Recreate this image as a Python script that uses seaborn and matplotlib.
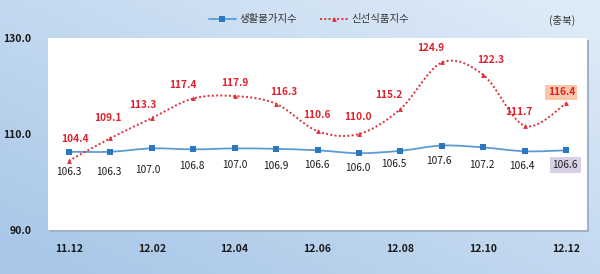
import numpy as np
import pandas as pd
import matplotlib
matplotlib.use("Agg")
import matplotlib.pyplot as plt
from matplotlib.path import Path
from matplotlib.patches import PathPatch, Rectangle
from matplotlib.lines import Line2D
import seaborn as sns

months = ["11.12", "12.01", "12.02", "12.03", "12.04", "12.05", "12.06",
          "12.07", "12.08", "12.09", "12.10", "12.11", "12.12"]
living = [106.3, 106.3, 107.0, 106.8, 107.0, 106.9, 106.6, 106.0, 106.5, 107.6, 107.2, 106.4, 106.6]
fresh = [104.4, 109.1, 113.3, 117.4, 117.9, 116.3, 110.6, 110.0, 115.2, 124.9, 122.3, 111.7, 116.4]
tick_labels = ["11.12", "12.02", "12.04", "12.06", "12.08", "12.10", "12.12"]
name_living = "생활물가지수"
name_fresh = "신선식품지수"
region = "(충북)"

# label offsets in pixels (layout only)
fresh_off = [(6, 22), (-2, 20), (-9, 13), (-10, 13), (0, 13), (8, 12), (-1, 16),
             (-1, 17), (-12, 14), (-11, 14), (7, 15), (-6, 14), (-5, 11)]
living_off = [(0, -20), (-1, -20), (-4, -22), (-1, -17), (0, -17), (0, -17), (-1, -15),
              (-1, -15), (-7, -13), (-3, -15), (-2, -18), (-3, -15), (-1, -15)]

sns.set_theme(style="white")
plt.rcParams["font.family"] = ["Noto Sans CJK KR", "DejaVu Sans"]

fig = plt.figure(figsize=(6.0, 2.74), dpi=100)

# gradient background
bg = fig.add_axes([0, 0, 1, 1], zorder=-10)
yy, xx = np.mgrid[0:1:200j, 0:1:300j]
t = np.clip(0.55 * xx + 0.55 * (1 - yy) - 0.05, 0, 1)  # yy=0 top
c0 = np.array([0.66, 0.78, 0.91])
c1 = np.array([0.87, 0.92, 0.97])
img = c0[None, None, :] * (1 - t[..., None]) + c1[None, None, :] * t[..., None]
bg.imshow(img, aspect="auto", extent=[0, 1, 0, 1])
bg.axis("off")

L, B, W, H = 48 / 600, 44 / 274, 539 / 600, 192 / 274
shadow = fig.add_axes([L + 2 / 600, B - 2 / 274, W, H], zorder=-5)
shadow.set_facecolor("#9fb3c8")
shadow.set_xticks([]); shadow.set_yticks([])
for s in shadow.spines.values():
    s.set_visible(False)

ax = fig.add_axes([L, B, W, H])
ax.set_facecolor("white")

df = pd.DataFrame({"x": np.arange(len(months)), "month": months,
                   "living": living, "fresh": fresh})

blue_line = "#5b9bd5"
blue_mk = "#2a78c0"
red = "#e0303a"


def smooth_path(xs, ys):
    pts = np.column_stack([xs, ys]).astype(float)
    n = len(pts)
    verts = [pts[0]]
    codes = [Path.MOVETO]
    for i in range(n - 1):
        p0 = pts[i - 1] if i > 0 else pts[i]
        p1 = pts[i]
        p2 = pts[i + 1]
        p3 = pts[i + 2] if i + 2 < n else pts[i + 1]
        c1 = p1 + (p2 - p0) / 6.0
        c2 = p2 - (p3 - p1) / 6.0
        verts += [c1, c2, p2]
        codes += [Path.CURVE4] * 3
    return Path(verts, codes)


ax.add_patch(PathPatch(smooth_path(df["x"], df["living"]), fill=False,
                       edgecolor=blue_line, lw=1.3, zorder=2))
ax.add_patch(PathPatch(smooth_path(df["x"], df["fresh"]), fill=False,
                       edgecolor=red, lw=1.4, linestyle=(0, (1, 1.2)), zorder=2))

sns.lineplot(data=df, x="x", y="living", ax=ax, marker="s", markersize=4,
             color=blue_mk, linewidth=0, markeredgewidth=0, zorder=3)
sns.lineplot(data=df, x="x", y="fresh", ax=ax, marker="^", markersize=3.5,
             color=red, linewidth=0, markeredgewidth=0, zorder=3)

n = len(months)
for i in range(n):
    dx, dy = fresh_off[i]
    kw = {}
    if i == n - 1:
        kw["bbox"] = dict(boxstyle="square,pad=0.25", fc="#f8c8a8", ec="none")
    ax.annotate(f"{fresh[i]:.1f}", (i, fresh[i]), xytext=(dx * 0.72, dy * 0.72),
                textcoords="offset points", ha="center", va="center",
                fontsize=7.3, fontweight="bold", color="#e0202a", zorder=5, **kw)
    dx, dy = living_off[i]
    kw = {}
    if i == n - 1:
        kw["bbox"] = dict(boxstyle="square,pad=0.3", fc="#d8d0e6", ec="none")
    ax.annotate(f"{living[i]:.1f}", (i, living[i]), xytext=(dx * 0.72, dy * 0.72),
                textcoords="offset points", ha="center", va="center",
                fontsize=7.3, color="#1a1a1a", zorder=5, **kw)

ax.set_xlim(-0.5, n - 0.5)
ax.set_ylim(90, 130)
ax.set_yticks([90, 110, 130])
ax.set_yticklabels([f"{v:.1f}" for v in [90, 110, 130]], fontsize=7.5,
                   fontweight="bold", color="#1a1a1a")
tick_pos = [months.index(m) for m in tick_labels]
ax.set_xticks(tick_pos)
ax.set_xticklabels(tick_labels, fontsize=7.5, fontweight="bold", color="#1a1a1a")
ax.tick_params(axis="y", length=0, pad=12)
ax.tick_params(axis="x", length=0, pad=10)
for s in ax.spines.values():
    s.set_visible(False)
ax.set_xlabel("")
ax.set_ylabel("")
ax.grid(False)

handles = [
    Line2D([], [], color=blue_line, lw=1.3, marker="s", markersize=4,
           markerfacecolor=blue_mk, markeredgewidth=0),
    Line2D([], [], color=red, lw=1.4, linestyle=(0, (1, 1.2)), marker="^",
           markersize=3.5, markerfacecolor=red, markeredgewidth=0),
]
fig.legend(handles, [name_living, name_fresh], loc="center", ncol=2,
           bbox_to_anchor=(0.515, 0.93), frameon=False, fontsize=7.5,
           handlelength=2.6, columnspacing=2.2, handletextpad=0.4,
           labelcolor="#333333")
fig.text(562 / 600, 1 - 20 / 274, region, ha="center", va="center",
         fontsize=7.5, color="#333333")

fig.savefig("out.png", dpi=100)
